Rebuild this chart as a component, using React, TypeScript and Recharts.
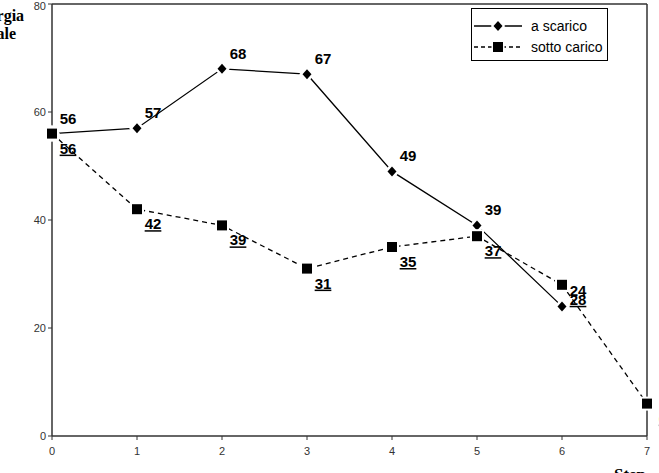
import { LineChart, Line, XAxis, YAxis, ReferenceLine, LabelList, Legend } from 'recharts'

// dati
const steps = [0, 1, 2, 3, 4, 5, 6, 7]
const aScarico = [56, 57, 68, 67, 49, 39, 24, null]
const sottoCarico = [56, 42, 39, 31, 35, 37, 28, 6]
const yTicks = [0, 20, 40, 60, 80]
const seriesNames = ['a scarico', 'sotto carico']
const yTitle = ['Energia', 'totale']
const xTitle = 'Step'

const data = steps.map((s, i) => ({ step: s, a: aScarico[i], b: sottoCarico[i] }))

const SANS = 'Liberation Sans, Arial, sans-serif'
const SERIF = 'Liberation Serif, Times New Roman, serif'
const AXIS = '#333'

const Diamond = (props: any) => {
  const { cx, cy, value } = props
  if (cx == null || cy == null || value == null) return null
  return (
    <path
      d={`M${cx},${cy - 5}L${cx + 4.5},${cy}L${cx},${cy + 5}L${cx - 4.5},${cy}Z`}
      fill="#000"
      stroke="#fff"
      strokeWidth={5}
      paintOrder="stroke"
    />
  )
}

const Square = (props: any) => {
  const { cx, cy, value } = props
  if (cx == null || cy == null || value == null) return null
  return <rect x={cx - 5} y={cy - 5} width={10} height={10} fill="#000" stroke="#fff" strokeWidth={4} paintOrder="stroke" />
}

const labelAbove = (p: any) => {
  if (p.value == null) return null
  return (
    <text x={p.x + 16} y={p.y - 10} textAnchor="middle" fontFamily={SANS} fontSize={15} fontWeight="bold" fill="#000">
      {p.value}
    </text>
  )
}

const labelBelow = (p: any) => {
  if (p.value == null) return null
  return (
    <text x={p.x + 16} y={p.y + 20} textAnchor="middle" fontFamily={SANS} fontSize={15} fontWeight="bold" fill="#000" textDecoration="underline">
      {p.value}
    </text>
  )
}

const LegendBox = () => (
  <svg width={137} height={53}>
    <rect x={0.5} y={0.5} width={136} height={52} fill="#fff" stroke="#000" />
    <line x1={3} x2={51} y1={18} y2={18} stroke="#000" strokeWidth={1.3} />
    <path d="M27,13L31.5,18L27,23L22.5,18Z" fill="#000" stroke="#fff" strokeWidth={4} paintOrder="stroke" />
    <text x={60} y={23} fontFamily={SANS} fontSize={14} fill="#000">{seriesNames[0]}</text>
    <line x1={3} x2={51} y1={39} y2={39} stroke="#000" strokeWidth={1.3} strokeDasharray="4 3" />
    <rect x={22} y={34} width={10} height={10} fill="#000" stroke="#fff" strokeWidth={3} paintOrder="stroke" />
    <text x={60} y={44} fontFamily={SANS} fontSize={14} fill="#000">{seriesNames[1]}</text>
  </svg>
)

export default function App() {
  return (
    <div style={{ position: 'absolute', left: 0, top: 0, width: 659, height: 473, background: '#fff' }}>
      <LineChart width={659} height={473} data={data} margin={{ top: 4, right: 12, bottom: 7, left: 0 }}>
        <XAxis
          dataKey="step"
          type="number"
          domain={[0, 7]}
          ticks={steps}
          tickSize={4}
          tickMargin={7}
          height={30}
          axisLine={{ stroke: AXIS, strokeWidth: 1.5 }}
          tickLine={{ stroke: AXIS }}
          tick={{ fontSize: 11, fill: AXIS, fontFamily: SANS }}
          label={{
            content: () => (
              <text x={630} y={480} textAnchor="middle" fontFamily={SERIF} fontSize={17} fontWeight="bold" fill="#000">
                {xTitle}
              </text>
            ),
          }}
        />
        <YAxis
          domain={[0, 80]}
          ticks={yTicks}
          width={52}
          tickSize={4}
          axisLine={{ stroke: AXIS, strokeWidth: 1.5 }}
          tickLine={{ stroke: AXIS }}
          tick={{ fontSize: 11, fill: AXIS, fontFamily: SANS }}
          label={{
            content: () => (
              <text textAnchor="middle" fontFamily={SERIF} fontSize={16} fontWeight="bold" fill="#000">
                <tspan x={-3} y={21}>{yTitle[0]}</tspan>
                <tspan x={-3} y={39}>{yTitle[1]}</tspan>
              </text>
            ),
          }}
        />
        <ReferenceLine y={80} stroke={AXIS} strokeWidth={1.5} />
        <ReferenceLine x={7} stroke={AXIS} strokeWidth={1.5} />
        <Line
          type="linear"
          dataKey="a"
          name={seriesNames[0]}
          stroke="#000"
          strokeWidth={1.3}
          dot={Diamond}
          activeDot={false}
          isAnimationActive={false}
        >
          <LabelList dataKey="a" content={labelAbove} />
        </Line>
        <Line
          type="linear"
          dataKey="b"
          name={seriesNames[1]}
          stroke="#000"
          strokeWidth={1.3}
          strokeDasharray="5 4"
          dot={Square}
          activeDot={false}
          isAnimationActive={false}
        >
          <LabelList dataKey="b" content={labelBelow} />
        </Line>
        <Legend
          layout="vertical"
          align="center"
          verticalAlign="middle"
          wrapperStyle={{ left: 471, top: 8, width: 137, height: 53 }}
          content={() => <LegendBox />}
        />
      </LineChart>
    </div>
  )
}
